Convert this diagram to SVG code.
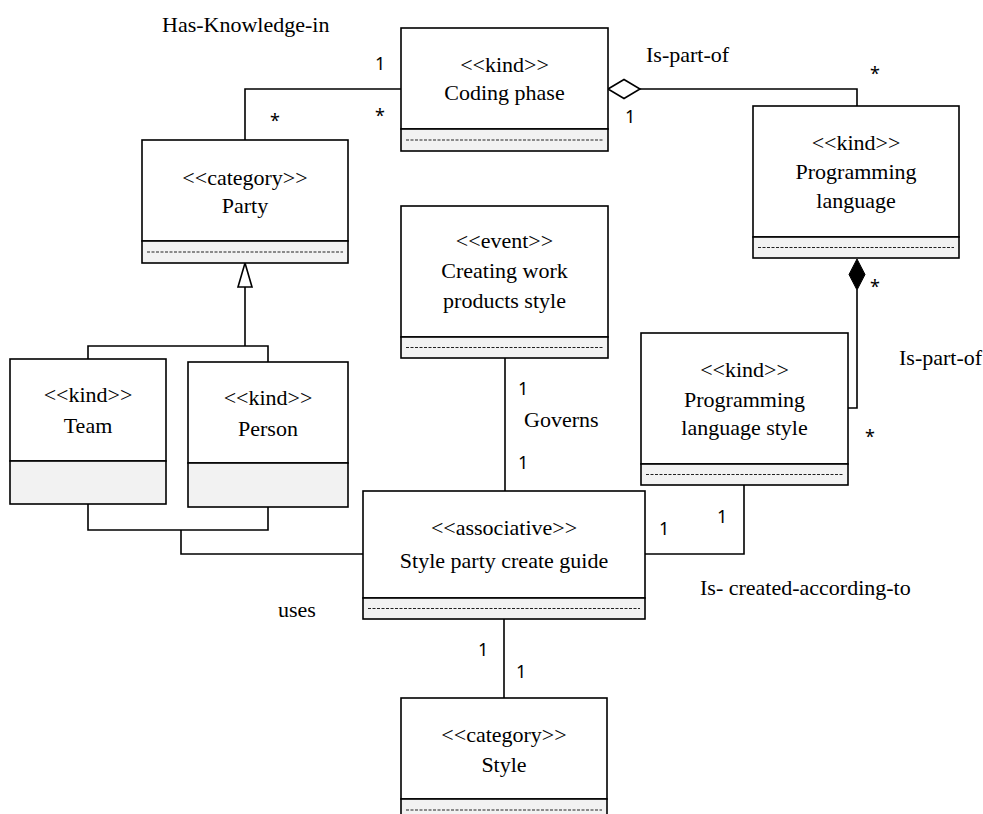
<svg xmlns="http://www.w3.org/2000/svg" width="983" height="814" viewBox="0 0 983 814">
<style>
.box{fill:#fff;stroke:#000;stroke-width:1.6}
.attr{fill:#f2f2f2;stroke:#000;stroke-width:1.6}
.dash{stroke:#222;stroke-width:1;stroke-dasharray:3,1.5}
.ln{fill:none;stroke:#000;stroke-width:1.6}
</style>
<rect width="983" height="814" fill="#fff"/>
<g id="connectors">
<polyline class="ln" points="245,140 245,89 401,89"/>
<polyline class="ln" points="640,89 857,89 857,106"/>
<polygon points="608,89 624,79.5 640,89 624,98.5" fill="#fff" stroke="#000" stroke-width="1.6"/>
<polyline class="ln" points="857,290 857,408 848,408"/>
<polygon points="857,259 865,274.5 857,290 849,274.5" fill="#000" stroke="#000" stroke-width="1"/>
<line class="ln" x1="245" y1="287" x2="245" y2="346"/>
<polygon points="245,263 252,287 238,287" fill="#fff" stroke="#000" stroke-width="1.6"/>
<polyline class="ln" points="88,359 88,346 268,346 268,362"/>
<polyline class="ln" points="88,504 88,530 268,530 268,507"/>
<polyline class="ln" points="181,530 181,554 363,554"/>
<line class="ln" x1="505" y1="358" x2="505" y2="491"/>
<polyline class="ln" points="645,554 744,554 744,485"/>
<line class="ln" x1="504" y1="619" x2="504" y2="698"/>
</g>
<g id="labels" font-family="Liberation Serif, Times New Roman, serif" font-size="22">
<text x="162" y="32">Has-Knowledge-in</text>
<text x="646" y="62">Is-part-of</text>
<text x="899" y="365">Is-part-of</text>
<text x="524" y="427">Governs</text>
<text x="700" y="595">Is- created-according-to</text>
<text x="278" y="617">uses</text>
</g>
<g id="multiplicities" font-family="Noto Sans, Liberation Sans, sans-serif" font-size="18">
<text x="375" y="70">1</text>
<text x="375" y="122">*</text>
<text x="270" y="127">*</text>
<text x="625" y="123">1</text>
<text x="870" y="80">*</text>
<text x="870" y="293">*</text>
<text x="865" y="443">*</text>
<text x="518" y="395">1</text>
<text x="518" y="469">1</text>
<text x="659" y="535">1</text>
<text x="717" y="523">1</text>
<text x="478" y="656">1</text>
<text x="516" y="678">1</text>
</g>
<g id="coding-phase" font-family="Liberation Serif, Times New Roman, serif" font-size="22" text-anchor="middle">
<rect class="box" x="401" y="28" width="207" height="101"/>
<rect class="attr" x="401" y="129" width="207" height="22"/>
<line class="dash" x1="406" y1="140" x2="603" y2="140"/>
<text x="504.5" y="72">&lt;&lt;kind&gt;&gt;</text>
<text x="504.5" y="100">Coding phase</text>
</g>
<g id="party" font-family="Liberation Serif, Times New Roman, serif" font-size="22" text-anchor="middle">
<rect class="box" x="142" y="140" width="206" height="101"/>
<rect class="attr" x="142" y="241" width="206" height="22"/>
<line class="dash" x1="147" y1="252" x2="343" y2="252"/>
<text x="245" y="185">&lt;&lt;category&gt;&gt;</text>
<text x="245" y="213">Party</text>
</g>
<g id="programming-language" font-family="Liberation Serif, Times New Roman, serif" font-size="22" text-anchor="middle">
<rect class="box" x="753" y="106" width="206" height="131"/>
<rect class="attr" x="753" y="237" width="206" height="21"/>
<line class="dash" x1="758" y1="247.5" x2="954" y2="247.5"/>
<text x="856" y="150">&lt;&lt;kind&gt;&gt;</text>
<text x="856" y="179">Programming</text>
<text x="856" y="208">language</text>
</g>
<g id="creating-work-products-style" font-family="Liberation Serif, Times New Roman, serif" font-size="22" text-anchor="middle">
<rect class="box" x="401" y="206" width="207" height="131"/>
<rect class="attr" x="401" y="337" width="207" height="21"/>
<line class="dash" x1="406" y1="347.5" x2="603" y2="347.5"/>
<text x="504.5" y="248">&lt;&lt;event&gt;&gt;</text>
<text x="504.5" y="278">Creating work</text>
<text x="504.5" y="308">products style</text>
</g>
<g id="programming-language-style" font-family="Liberation Serif, Times New Roman, serif" font-size="22" text-anchor="middle">
<rect class="box" x="641" y="333" width="207" height="131"/>
<rect class="attr" x="641" y="464" width="207" height="21"/>
<line class="dash" x1="646" y1="474.5" x2="843" y2="474.5"/>
<text x="744.5" y="377">&lt;&lt;kind&gt;&gt;</text>
<text x="744.5" y="407">Programming</text>
<text x="744.5" y="435">language style</text>
</g>
<g id="team" font-family="Liberation Serif, Times New Roman, serif" font-size="22" text-anchor="middle">
<rect class="box" x="10" y="359" width="156" height="102"/>
<rect class="attr" x="10" y="461" width="156" height="43"/>
<text x="88" y="402">&lt;&lt;kind&gt;&gt;</text>
<text x="88" y="433">Team</text>
</g>
<g id="person" font-family="Liberation Serif, Times New Roman, serif" font-size="22" text-anchor="middle">
<rect class="box" x="188" y="362" width="160" height="101"/>
<rect class="attr" x="188" y="463" width="160" height="44"/>
<text x="268" y="405">&lt;&lt;kind&gt;&gt;</text>
<text x="268" y="436">Person</text>
</g>
<g id="style-party-create-guide" font-family="Liberation Serif, Times New Roman, serif" font-size="22" text-anchor="middle">
<rect class="box" x="363" y="491" width="282" height="107"/>
<rect class="attr" x="363" y="598" width="282" height="21"/>
<line class="dash" x1="368" y1="608.5" x2="640" y2="608.5"/>
<text x="504" y="535">&lt;&lt;associative&gt;&gt;</text>
<text x="504" y="568">Style party create guide</text>
</g>
<g id="style" font-family="Liberation Serif, Times New Roman, serif" font-size="22" text-anchor="middle">
<rect class="box" x="401" y="698" width="206" height="101"/>
<rect class="attr" x="401" y="799" width="206" height="22"/>
<line class="dash" x1="406" y1="810" x2="602" y2="810"/>
<text x="504" y="742">&lt;&lt;category&gt;&gt;</text>
<text x="504" y="772">Style</text>
</g>
</svg>
